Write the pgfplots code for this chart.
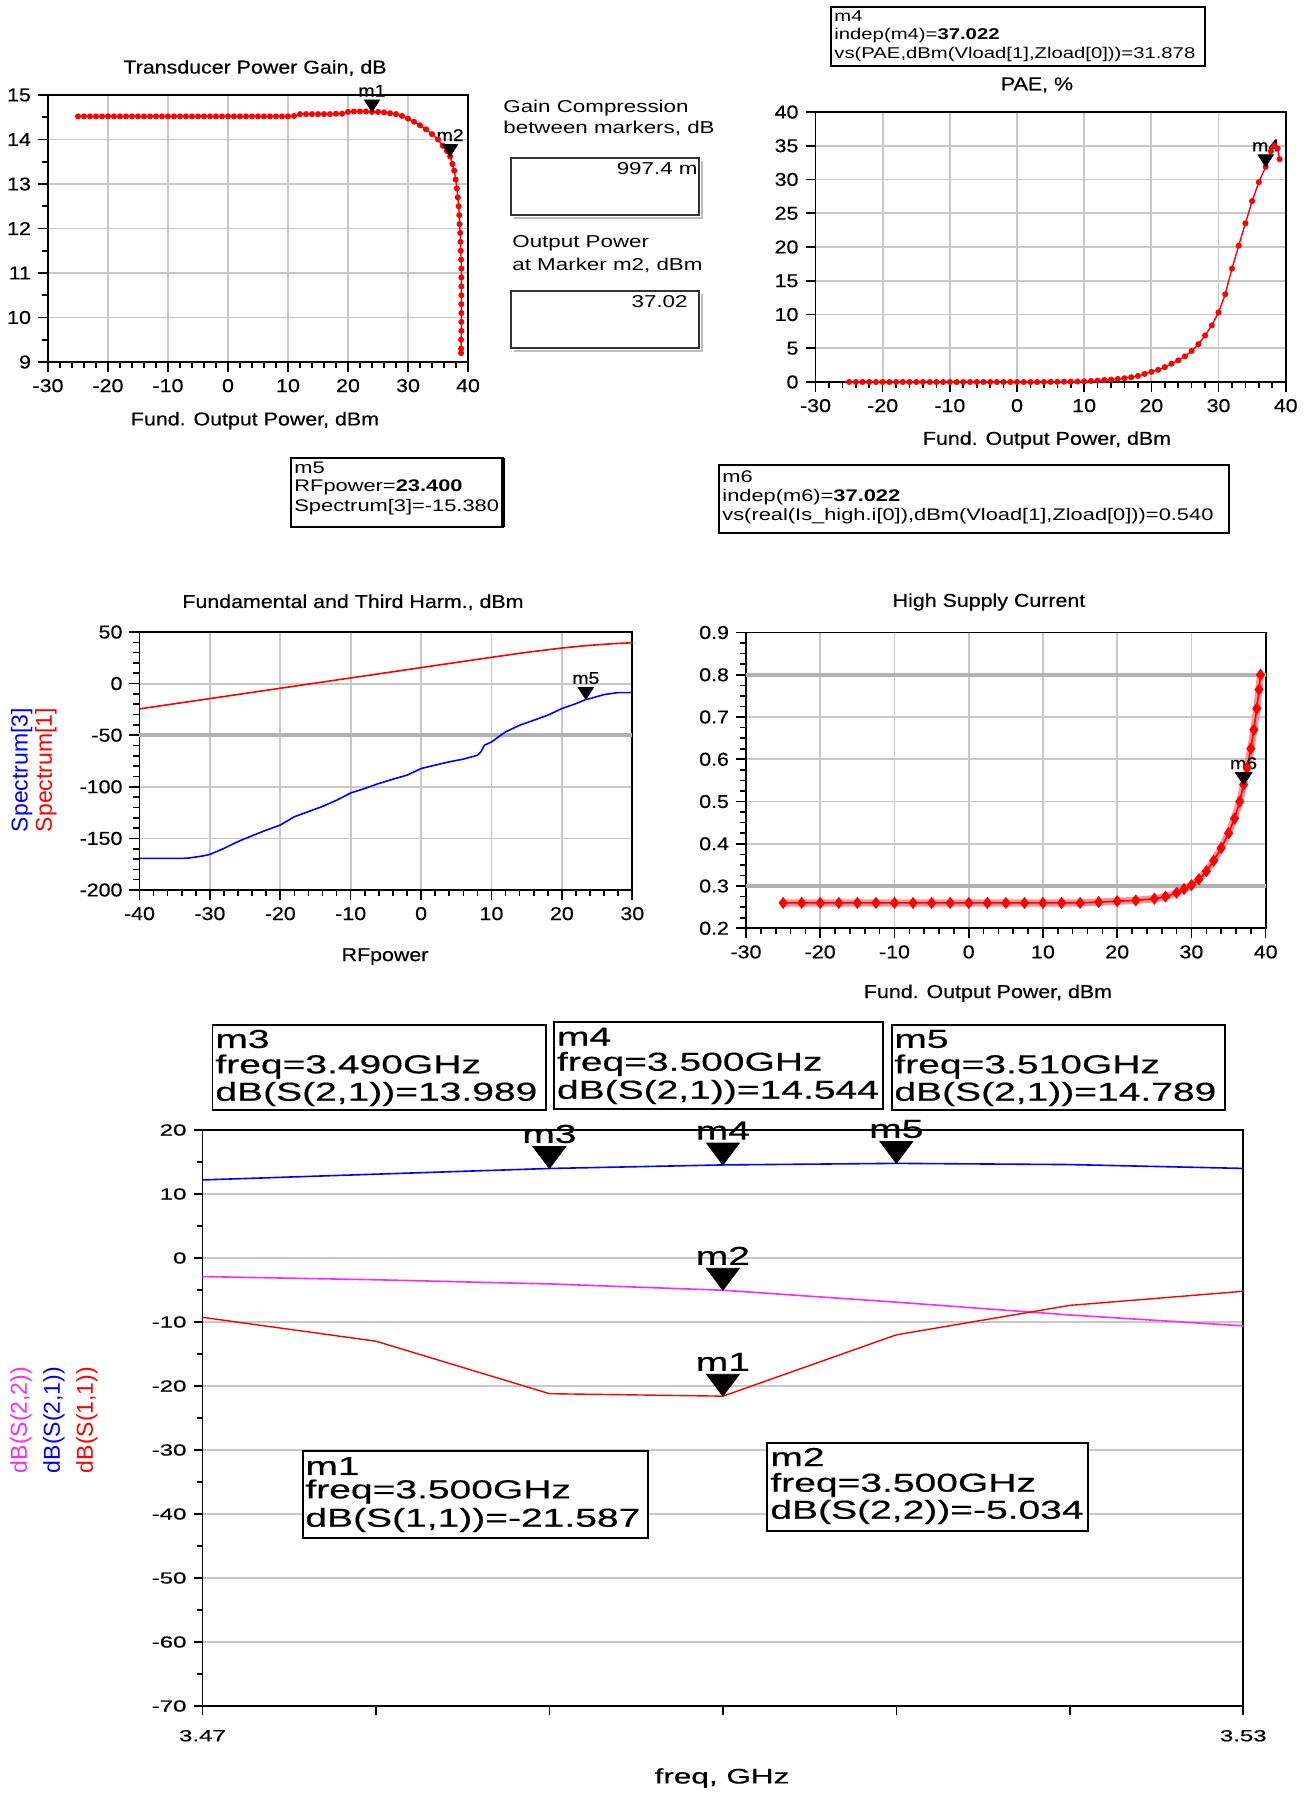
\documentclass[border=0pt]{standalone}
\usepackage{fontspec}
\setmainfont{Liberation Sans}[FakeStretch=1.15, FakeBold=0.4]
\newfontfamily\boxf{Liberation Sans}[FakeStretch=1.3]
\newfontfamily\widef{Liberation Sans}[FakeStretch=1.5, FakeBold=0.5]
\newfontfamily\plainf{Liberation Sans}
\usepackage{pgfplots}
\usepackage{pgfplotstable}
\pgfplotsset{compat=1.18}

\definecolor{adsred}{RGB}{255,0,0}
\definecolor{adsblue}{RGB}{0,0,255}
\definecolor{adsmag}{RGB}{255,40,255}
\definecolor{adsgrid}{RGB}{200,200,200}

\newcommand\fup{\fontsize{9.3}{11}\selectfont}
\newcommand\fmk{\fontsize{8.5}{10}\selectfont}
\newcommand\fbx{\boxf\fontsize{8.4}{9.5}\selectfont}
\newcommand\fbxs{\boxf\fontsize{7.8}{9}\selectfont}
\newcommand\fpn{\boxf\fontsize{8.6}{10}\selectfont}
\newcommand\fwide{\widef\fontsize{13}{14}\selectfont}
\newcommand\fwtick{\widef\fontsize{8}{9}\selectfont}
\newcommand\frot{\plainf\fontsize{11.5}{12}\selectfont}

\pgfplotsset{
  adsaxis/.style={
    scale only axis, anchor=north west, clip=false,
    tick pos=left, tick align=outside,
    grid=major, major grid style={adsgrid, line width=0.9pt},
    axis line style={line width=0.9pt},
    every tick/.style={black, line width=0.8pt},
    major tick length=5pt, minor tick length=3pt,
    ticklabel style={font=\fup},
    /pgf/number format/assume math mode=true,
  },
}

% ADS style marker: filled triangle pointing down at (x,y) with its name above
% #1 x, #2 y, #3 name, #4 size, #5 font, #6 horizontal stretch
\newcommand\admark[6]{%
  \addplot[only marks, forget plot, mark=triangle*, mark size=#4,
    mark options={draw=black, fill=black, yshift=#4, xscale=#6, rotate=180}]
    coordinates {(#1,#2)};
  \node[anchor=south, inner sep=0pt, font=#5, yshift=1.5*#4+1.5pt] at (axis cs:#1,#2) {#3};
}

% Transducer power gain vs fundamental output power
\pgfplotstableread{
x y
-25 14.52
-24 14.52
-23 14.52
-22 14.52
-21 14.52
-20 14.52
-19 14.52
-18 14.52
-17 14.52
-16 14.52
-15 14.52
-14 14.52
-13 14.52
-12 14.52
-11 14.52
-10 14.52
-9 14.52
-8 14.52
-7 14.52
-6 14.52
-5 14.52
-4 14.52
-3 14.52
-2 14.52
-1 14.52
0 14.52
1 14.52
2 14.52
3 14.52
4 14.52
5 14.52
6 14.52
7 14.52
8 14.52
9 14.52
10 14.52
11 14.53
12 14.57
13 14.57
14 14.57
15 14.57
16 14.57
17 14.57
18 14.58
19 14.58
20 14.62
21 14.63
22 14.63
23 14.63
24 14.62
25 14.62
26 14.61
27 14.59
28 14.57
29 14.53
30 14.47
31 14.40
32 14.32
33 14.23
34 14.12
35 14.00
35.8 13.86
36.5 13.74
37.02 13.62
37.4 13.45
37.7 13.30
37.95 13.10
38.15 12.90
38.3 12.70
38.45 12.50
38.55 12.30
38.6 12.10
38.7 11.90
38.75 11.70
38.8 11.50
38.85 11.30
38.9 11.10
38.9 10.90
38.9 10.70
38.9 10.50
38.9 10.30
38.9 10.10
38.9 9.90
38.9 9.70
38.85 9.50
38.85 9.30
38.85 9.20
}\gaintab

% PAE vs fundamental output power
\pgfplotstableread{
x y
-25 0
-24 0
-23 0
-22 0
-21 0
-20 0
-19 0
-18 0
-17 0
-16 0
-15 0
-14 0
-13 0
-12 0
-11 0
-10 0
-9 0
-8 0
-7 0
-6 0
-5 0
-4 0
-3 0
-2 0
-1 0
0 0
1 0
2 0
3 0
4 0
5 0.02
6 0.03
7 0.04
8 0.05
9 0.07
10 0.1
11 0.15
12 0.2
13 0.3
14 0.35
15 0.45
16 0.55
17 0.7
18 0.9
19 1.2
20 1.5
21 1.8
22 2.2
23 2.7
24 3.2
25 3.8
26 4.6
27 5.6
28 6.9
29 8.4
30 10.3
31 13.0
32 16.8
33 20.2
34 23.5
35 26.8
36 29.6
37.022 31.878
37.8 34.2
38.3 35.0
38.8 34.6
39.1 33.0
}\paetab

% Spectrum[1] (fundamental) and Spectrum[3] (third harmonic) vs RF power
\pgfplotstableread{
x y
-40 -24.5
-35 -19.5
-30 -14.5
-25 -9.5
-20 -4.5
-15 0.5
-10 5.5
-5 10.5
0 15.5
5 20.5
10 25.5
15 30.3
20 34.5
23.4 36.8
25 37.6
27 38.6
30 39.6
}\fundtab

\pgfplotstableread{
x y
-40 -169.4
-38 -169.4
-36 -169.4
-34 -169.4
-33 -169.0
-31 -167.0
-30 -165.5
-28 -159.7
-26 -153.0
-24 -147.4
-22 -142.0
-20 -137.0
-18 -129.0
-16 -124.0
-14 -119.0
-12 -113.0
-10 -106.0
-8 -101.6
-6 -96.8
-4 -92.6
-2 -88.7
0 -82.3
2 -79.0
4 -75.8
6 -73.2
8 -69.4
8.5 -66.0
9 -59.7
10 -56.5
12 -46.8
14 -40.3
16 -35.5
18 -30.6
20 -24.2
22 -19.4
23.4 -15.38
24 -14.5
26 -10.6
28 -8.7
30 -8.7
}\thirdtab

% High supply current vs fundamental output power
\pgfplotstableread{
x y
-25 0.26
-22.5 0.26
-20 0.26
-17.5 0.26
-15 0.26
-12.5 0.26
-10 0.26
-7.5 0.26
-5 0.26
-2.5 0.26
0 0.26
2.5 0.26
5 0.26
7.5 0.26
10 0.26
12.5 0.26
15 0.26
17.5 0.262
20 0.264
22.5 0.266
25 0.27
26.5 0.275
28 0.284
29 0.293
30 0.302
31 0.316
32 0.335
33 0.36
34 0.39
35 0.425
35.8 0.46
36.5 0.50
37.022 0.54
37.5 0.58
38 0.625
38.4 0.67
38.8 0.72
39.1 0.765
39.3 0.80
}\curtab

% S-parameters vs frequency
\pgfplotstableread{
f s11 s21 s22
3.47 -9.27 12.2 -2.9
3.48 -13.0 13.1 -3.4
3.49 -21.2 13.989 -4.05
3.50 -21.587 14.544 -5.034
3.51 -12.0 14.789 -6.9
3.52 -7.4 14.6 -8.9
3.53 -5.2 14.0 -10.6
}\spartab

\begin{document}
\begin{tikzpicture}
\useasboundingbox (0,0) rectangle (654pt,-896.5pt);

% ---------- Transducer power gain ----------
\begin{axis}[adsaxis, at={(24pt,-47.5pt)}, width=210pt, height=133.5pt,
  xmin=-30, xmax=40, ymin=9, ymax=15,
  xtick={-30,-20,...,40}, ytick={9,10,...,15},
  minor x tick num=4, minor y tick num=1]
\addplot[adsred, line width=0.7pt, mark=*, mark size=1.15pt] table {\gaintab};
\admark{24}{14.62}{m1}{4pt}{\fmk}{1.1}
\admark{37.02}{13.62}{m2}{4pt}{\fmk}{1.1}
\end{axis}
\node[font=\fup] at (127.5pt,-34pt) {Transducer Power Gain, dB};
\node[font=\fup] at (127.5pt,-210.3pt) {Fund. Output Power, dBm};

% ---------- Compression readouts ----------
\node[font=\fpn, anchor=west, inner sep=0pt] at (251.5pt,-54pt) {Gain Compression};
\node[font=\fpn, anchor=west, inner sep=0pt] at (251.5pt,-64pt) {between markers, dB};
\draw[black!25, line width=1.2pt] (257pt,-109pt) -- (351pt,-109pt) -- (351pt,-80.5pt);
\draw[black!80, line width=1.1pt] (255.5pt,-79pt) rectangle (349.5pt,-107.5pt);
\node[font=\fpn, anchor=east, inner sep=0pt] at (349pt,-84.5pt) {997.4 m};
\node[font=\fpn, anchor=west, inner sep=0pt] at (256pt,-121.5pt) {Output Power};
\node[font=\fpn, anchor=west, inner sep=0pt] at (256pt,-132.5pt) {at Marker m2, dBm};
\draw[black!25, line width=1.2pt] (257pt,-175.5pt) -- (351pt,-175.5pt) -- (351pt,-147pt);
\draw[black!80, line width=1.1pt] (255.5pt,-145.5pt) rectangle (349.5pt,-174pt);
\node[font=\fpn, anchor=east, inner sep=0pt] at (344pt,-151pt) {37.02};

% ---------- PAE ----------
\draw[line width=0.9pt] (415.5pt,-3.5pt) rectangle (602.5pt,-33pt);
\node[font=\fbxs, anchor=west, inner sep=0pt] at (417pt,-8pt) {m4};
\node[font=\fbxs, anchor=west, inner sep=0pt] at (417pt,-17.5pt) {indep(m4)=\textbf{37.022}};
\node[font=\fbxs, anchor=west, inner sep=0pt] at (417pt,-27pt) {vs(PAE,dBm(Vload[1],Zload[0]))=31.878};
\begin{axis}[adsaxis, at={(407.75pt,-56pt)}, width=235.1pt, height=135pt,
  xmin=-30, xmax=40, ymin=0, ymax=40,
  xtick={-30,-20,...,40}, ytick={0,5,...,40},
  minor x tick num=4]
\addplot[adsred, line width=0.7pt, mark=*, mark size=1.15pt] table {\paetab};
\admark{37.022}{31.878}{m4}{4pt}{\fmk}{1.1}
\end{axis}
\node[font=\fup] at (518.5pt,-42.5pt) {PAE, \%};
\node[font=\fup] at (523.5pt,-220pt) {Fund. Output Power, dBm};

% ---------- Marker readouts m5 and m6 ----------
\draw[line width=0.9pt] (145.5pt,-229pt) rectangle (251.5pt,-263.5pt);
\draw[line width=1.6pt] (251.5pt,-229pt) -- (251.5pt,-263.5pt);
\node[font=\fbx, anchor=west, inner sep=0pt] at (147pt,-234pt) {m5};
\node[font=\fbx, anchor=west, inner sep=0pt] at (147pt,-243.5pt) {RFpower=\textbf{23.400}};
\node[font=\fbx, anchor=west, inner sep=0pt] at (147pt,-253.5pt) {Spectrum[3]=-15.380};

\draw[line width=0.9pt] (359.5pt,-232.5pt) rectangle (614.5pt,-266.5pt);
\node[font=\fbx, anchor=west, inner sep=0pt] at (361pt,-238.3pt) {m6};
\node[font=\fbx, anchor=west, inner sep=0pt] at (361pt,-248.8pt) {indep(m6)=\textbf{37.022}};
\node[font=\fbx, anchor=west, inner sep=0pt] at (361pt,-258.3pt) {vs(real(Is\_high.i[0]),dBm(Vload[1],Zload[0]))=0.540};

% ---------- Fundamental and third harmonic ----------
\begin{axis}[adsaxis, at={(69.75pt,-316pt)}, width=246.4pt, height=129pt,
  xmin=-40, xmax=30, ymin=-200, ymax=50,
  xtick={-40,-30,...,30}, ytick={-200,-150,...,50},
  minor x tick num=4, minor y tick num=4,
  extra y ticks={-50}, extra y tick labels={},
  extra y tick style={ymajorgrids=true, major grid style={black!30, line width=2pt}}]
\addplot[adsred, line width=0.8pt] table {\fundtab};
\addplot[adsblue, line width=0.8pt] table {\thirdtab};
\admark{23.4}{-15.38}{m5}{4pt}{\fmk}{1.1}
\end{axis}
\node[font=\fup] at (176.5pt,-301.2pt) {Fundamental and Third Harm., dBm};
\node[font=\fup] at (192.5pt,-478.3pt) {RFpower};
\node[font=\frot, text=adsblue, rotate=90] at (10.8pt,-385pt) {Spectrum[3]};
\node[font=\frot, text=adsred, rotate=90] at (23pt,-385pt) {Spectrum[1]};

% ---------- High supply current ----------
\begin{axis}[adsaxis, at={(373pt,-316.25pt)}, width=259.85pt, height=147.9pt,
  xmin=-30, xmax=40, ymin=0.2, ymax=0.9,
  xtick={-30,-20,...,40}, ytick={0.2,0.3,...,0.9},
  yticklabel style={/pgf/number format/.cd, fixed, fixed zerofill, precision=1},
  minor x tick num=4, minor y tick num=3,
  extra y ticks={0.3,0.8}, extra y tick labels={},
  extra y tick style={ymajorgrids=true, major grid style={black!30, line width=2pt}}]
\addplot[adsred!50, line width=3.6pt, opacity=0.85] table {\curtab};
\addplot[adsred, line width=0.8pt, mark=diamond*, mark size=2.4pt] table {\curtab};
\admark{37.022}{0.54}{m6}{4pt}{\fmk}{1.2}
\end{axis}
\node[font=\fup] at (494.5pt,-301pt) {High Supply Current};
\node[font=\fup] at (494pt,-496.6pt) {Fund. Output Power, dBm};

% ---------- S-parameters ----------
\draw[line width=0.9pt] (106.25pt,-512.5pt) rectangle (272.9pt,-555pt);
\node[font=\fwide, anchor=west, inner sep=0pt] at (107.5pt,-519.5pt) {m3};
\node[font=\fwide, anchor=west, inner sep=0pt] at (107.5pt,-533.3pt) {freq=3.490GHz};
\node[font=\fwide, anchor=west, inner sep=0pt] at (107.5pt,-547pt) {dB(S(2,1))=13.989};
\draw[line width=0.9pt] (277pt,-510.8pt) rectangle (441.5pt,-554.5pt);
\node[font=\fwide, anchor=west, inner sep=0pt] at (278.3pt,-518.3pt) {m4};
\node[font=\fwide, anchor=west, inner sep=0pt] at (278.3pt,-532pt) {freq=3.500GHz};
\node[font=\fwide, anchor=west, inner sep=0pt] at (278.3pt,-546pt) {dB(S(2,1))=14.544};
\draw[line width=0.9pt] (445.8pt,-512.5pt) rectangle (612.5pt,-555pt);
\node[font=\fwide, anchor=west, inner sep=0pt] at (447pt,-519.5pt) {m5};
\node[font=\fwide, anchor=west, inner sep=0pt] at (447pt,-533.3pt) {freq=3.510GHz};
\node[font=\fwide, anchor=west, inner sep=0pt] at (447pt,-547pt) {dB(S(2,1))=14.789};

\begin{axis}[adsaxis, at={(101.25pt,-565pt)}, width=520.4pt, height=288pt,
  xmin=3.47, xmax=3.53, ymin=-70, ymax=20,
  xtick={3.47,3.48,3.49,3.50,3.51,3.52,3.53}, xticklabels={3.47,,,,,,3.53},
  ytick={-70,-60,...,20}, minor y tick num=1,
  grid=none, ymajorgrids=true,
  ticklabel style={font=\fwtick},
  xticklabel style={yshift=-4pt},
  major tick length=4.5pt, minor tick length=3pt]
\addplot[adsblue, line width=0.8pt] table[x=f, y=s21] {\spartab};
\addplot[adsmag, line width=0.8pt] table[x=f, y=s22] {\spartab};
\addplot[adsred, line width=0.7pt] table[x=f, y=s11] {\spartab};
\admark{3.49}{13.989}{m3}{7.3pt}{\fwide}{1.3}
\admark{3.50}{14.544}{m4}{7.3pt}{\fwide}{1.3}
\admark{3.51}{14.789}{m5}{7.3pt}{\fwide}{1.3}
\admark{3.50}{-5.034}{m2}{7.3pt}{\fwide}{1.3}
\admark{3.50}{-21.587}{m1}{7.3pt}{\fwide}{1.3}
\end{axis}
\fill[white] (151.3pt,-725.5pt) rectangle (323.8pt,-769pt);
\draw[line width=0.9pt] (151.3pt,-725.5pt) rectangle (323.8pt,-769pt);
\node[font=\fwide, anchor=west, inner sep=0pt] at (152.5pt,-733pt) {m1};
\node[font=\fwide, anchor=west, inner sep=0pt] at (152.5pt,-745.8pt) {freq=3.500GHz};
\node[font=\fwide, anchor=west, inner sep=0pt] at (152.5pt,-760pt) {dB(S(1,1))=-21.587};
\fill[white] (383.3pt,-721.3pt) rectangle (543.8pt,-765.3pt);
\draw[line width=0.9pt] (383.3pt,-721.3pt) rectangle (543.8pt,-765.3pt);
\node[font=\fwide, anchor=west, inner sep=0pt] at (385pt,-728.5pt) {m2};
\node[font=\fwide, anchor=west, inner sep=0pt] at (385pt,-742.5pt) {freq=3.500GHz};
\node[font=\fwide, anchor=west, inner sep=0pt] at (385pt,-756pt) {dB(S(2,2))=-5.034};
\node[font=\widef\fontsize{10.5}{12}\selectfont] at (361pt,-889pt) {freq, GHz};
\node[font=\frot, text=adsmag, rotate=90] at (10.5pt,-710pt) {dB(S(2,2))};
\node[font=\frot, text=adsblue, rotate=90] at (27pt,-710pt) {dB(S(2,1))};
\node[font=\frot, text=adsred, rotate=90] at (43.5pt,-710pt) {dB(S(1,1))};
\end{tikzpicture}
\end{document}
